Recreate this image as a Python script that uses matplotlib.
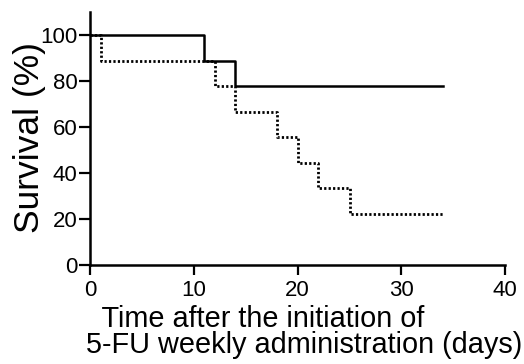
import matplotlib
matplotlib.use("Agg")
import matplotlib.pyplot as plt

plt.rcParams['font.family'] = ['Liberation Sans', 'DejaVu Sans']

# Solid group (step times and survival %)
solid_t = [0, 11, 14, 34]
solid_s = [100, 88.9, 77.8, 77.8]
# Dotted group
dot_t = [0, 1, 12, 14, 18, 20, 22, 25, 34]
dot_s = [100, 88.9, 77.8, 66.7, 55.6, 44.4, 33.3, 22.2, 22.2]

xticks = [0, 10, 20, 30, 40]
yticks = [0, 20, 40, 60, 80, 100]

fig = plt.figure(figsize=(5.24, 3.64), dpi=100)
ax = fig.add_axes([0.172, 0.272, 0.792, 0.695])

ax.step(solid_t, solid_s, where='post', color='black', lw=1.8)
ax.step(dot_t, dot_s, where='post', color='black', lw=2.0, linestyle=(0, (0.8, 0.8)))

ax.set_xlim(0, 40)
ax.set_ylim(0, 110)
ax.set_xticks(xticks)
ax.set_yticks(yticks)
for s in ['top', 'right']:
    ax.spines[s].set_visible(False)
for s in ['left', 'bottom']:
    ax.spines[s].set_linewidth(1.8)
ax.spines['left'].set_bounds(0, 110)
ax.tick_params(axis='both', direction='out', length=8, width=1.6, labelsize=16, pad=1)
ax.tick_params(axis='x', length=7, pad=4)

ax.set_ylabel('Survival (%)', fontsize=25.5, va='center')
ax.yaxis.set_label_coords(-0.145, 0.505)

fig.text(86 / 524, 1 - 353 / 364,
         '  Time after the initiation of\n5-FU weekly administration (days)',
         fontsize=20.8, ha='left', va='baseline', multialignment='left',
         linespacing=0.92)

fig.savefig('out.png', dpi=100)
